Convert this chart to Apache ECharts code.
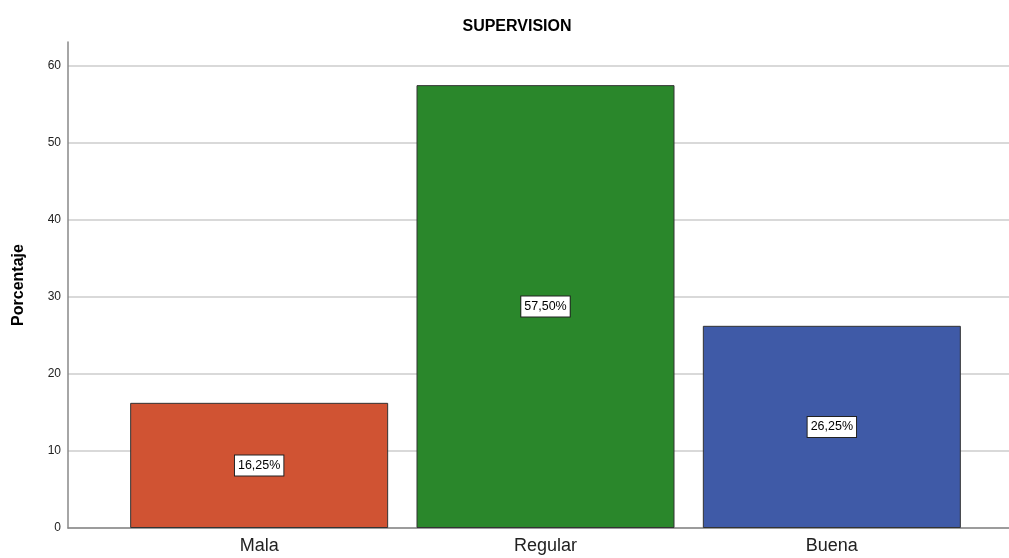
<!DOCTYPE html>
<html>
<head>
<meta charset="utf-8">
<script src="https://cdn.jsdelivr.net/npm/echarts@6/dist/echarts.min.js"></script>
<style>
  html, body { margin: 0; padding: 0; background: #fff; }
  #chart { width: 1009px; height: 558px; }
</style>
</head>
<body>
<div id="chart"></div>
<script>
// datos del grafico
var categories = ['Mala', 'Regular', 'Buena'];
var values = [16.25, 57.5, 26.25];
var labels = ['16,25%', '57,50%', '26,25%'];
var colors = ['#d05333', '#2a872b', '#3f5aa7'];

var myChart = echarts.init(document.getElementById('chart'));

var yMax = 63.1;
var font = 'Liberation Sans, Arial, sans-serif';

var option = {
    animation: false,
    title: {
        text: 'SUPERVISION',
        left: 512,
        top: 14,
        textAlign: 'center',
        textStyle: { fontFamily: font, fontSize: 16, fontWeight: 'bold', color: '#000' }
    },
    grid: [
        // grid del eje y y las lineas
        { left: 68, right: 0, top: 42, bottom: 30, outerBoundsMode: 'none', containLabel: false },
        // grid de las barras
        { left: 116, right: 34, top: 42, bottom: 30, outerBoundsMode: 'none', containLabel: false }
    ],
    xAxis: [
        {
            gridIndex: 0, type: 'value', min: 0, max: 1,
            axisLine: { show: true, lineStyle: { color: '#888', width: 1.5 } },
            axisTick: { show: false }, axisLabel: { show: false }, splitLine: { show: false }
        },
        {
            gridIndex: 1, type: 'category', data: categories,
            axisLine: { show: false }, axisTick: { show: false },
            axisLabel: { fontFamily: font, fontSize: 18, color: '#222', margin: 9 }
        }
    ],
    yAxis: [
        {
            gridIndex: 0, type: 'value', min: 0, max: yMax, interval: 10,
            name: 'Porcentaje', nameLocation: 'middle', nameGap: 41,
            nameTextStyle: { fontFamily: font, fontSize: 16, fontWeight: 'bold', color: '#000' },
            axisLine: { show: true, lineStyle: { color: '#888', width: 1.5 } },
            axisTick: { show: false },
            axisLabel: {
                fontFamily: font, fontSize: 12, color: '#222', margin: 7,
                showMaxLabel: false
            },
            splitLine: { show: true, showMaxLine: false, lineStyle: { color: '#ccc', width: 1.5 } }
        },
        {
            gridIndex: 1, type: 'value', min: 0, max: yMax,
            show: false, splitLine: { show: false }
        }
    ],
    series: [{
        type: 'bar',
        xAxisIndex: 1,
        yAxisIndex: 1,
        barWidth: 258,
        data: values.map(function (v, i) {
            return {
                value: v,
                itemStyle: { color: colors[i], borderColor: '#333', borderWidth: 1 }
            };
        }),
        label: {
            show: true,
            position: 'inside',
            formatter: function (p) { return labels[p.dataIndex]; },
            fontFamily: font, fontSize: 12.5, color: '#000',
            backgroundColor: '#fff', borderColor: '#222', borderWidth: 1,
            padding: [4, 3, 3, 3]
        }
    }]
};

myChart.setOption(option);
</script>
</body>
</html>
